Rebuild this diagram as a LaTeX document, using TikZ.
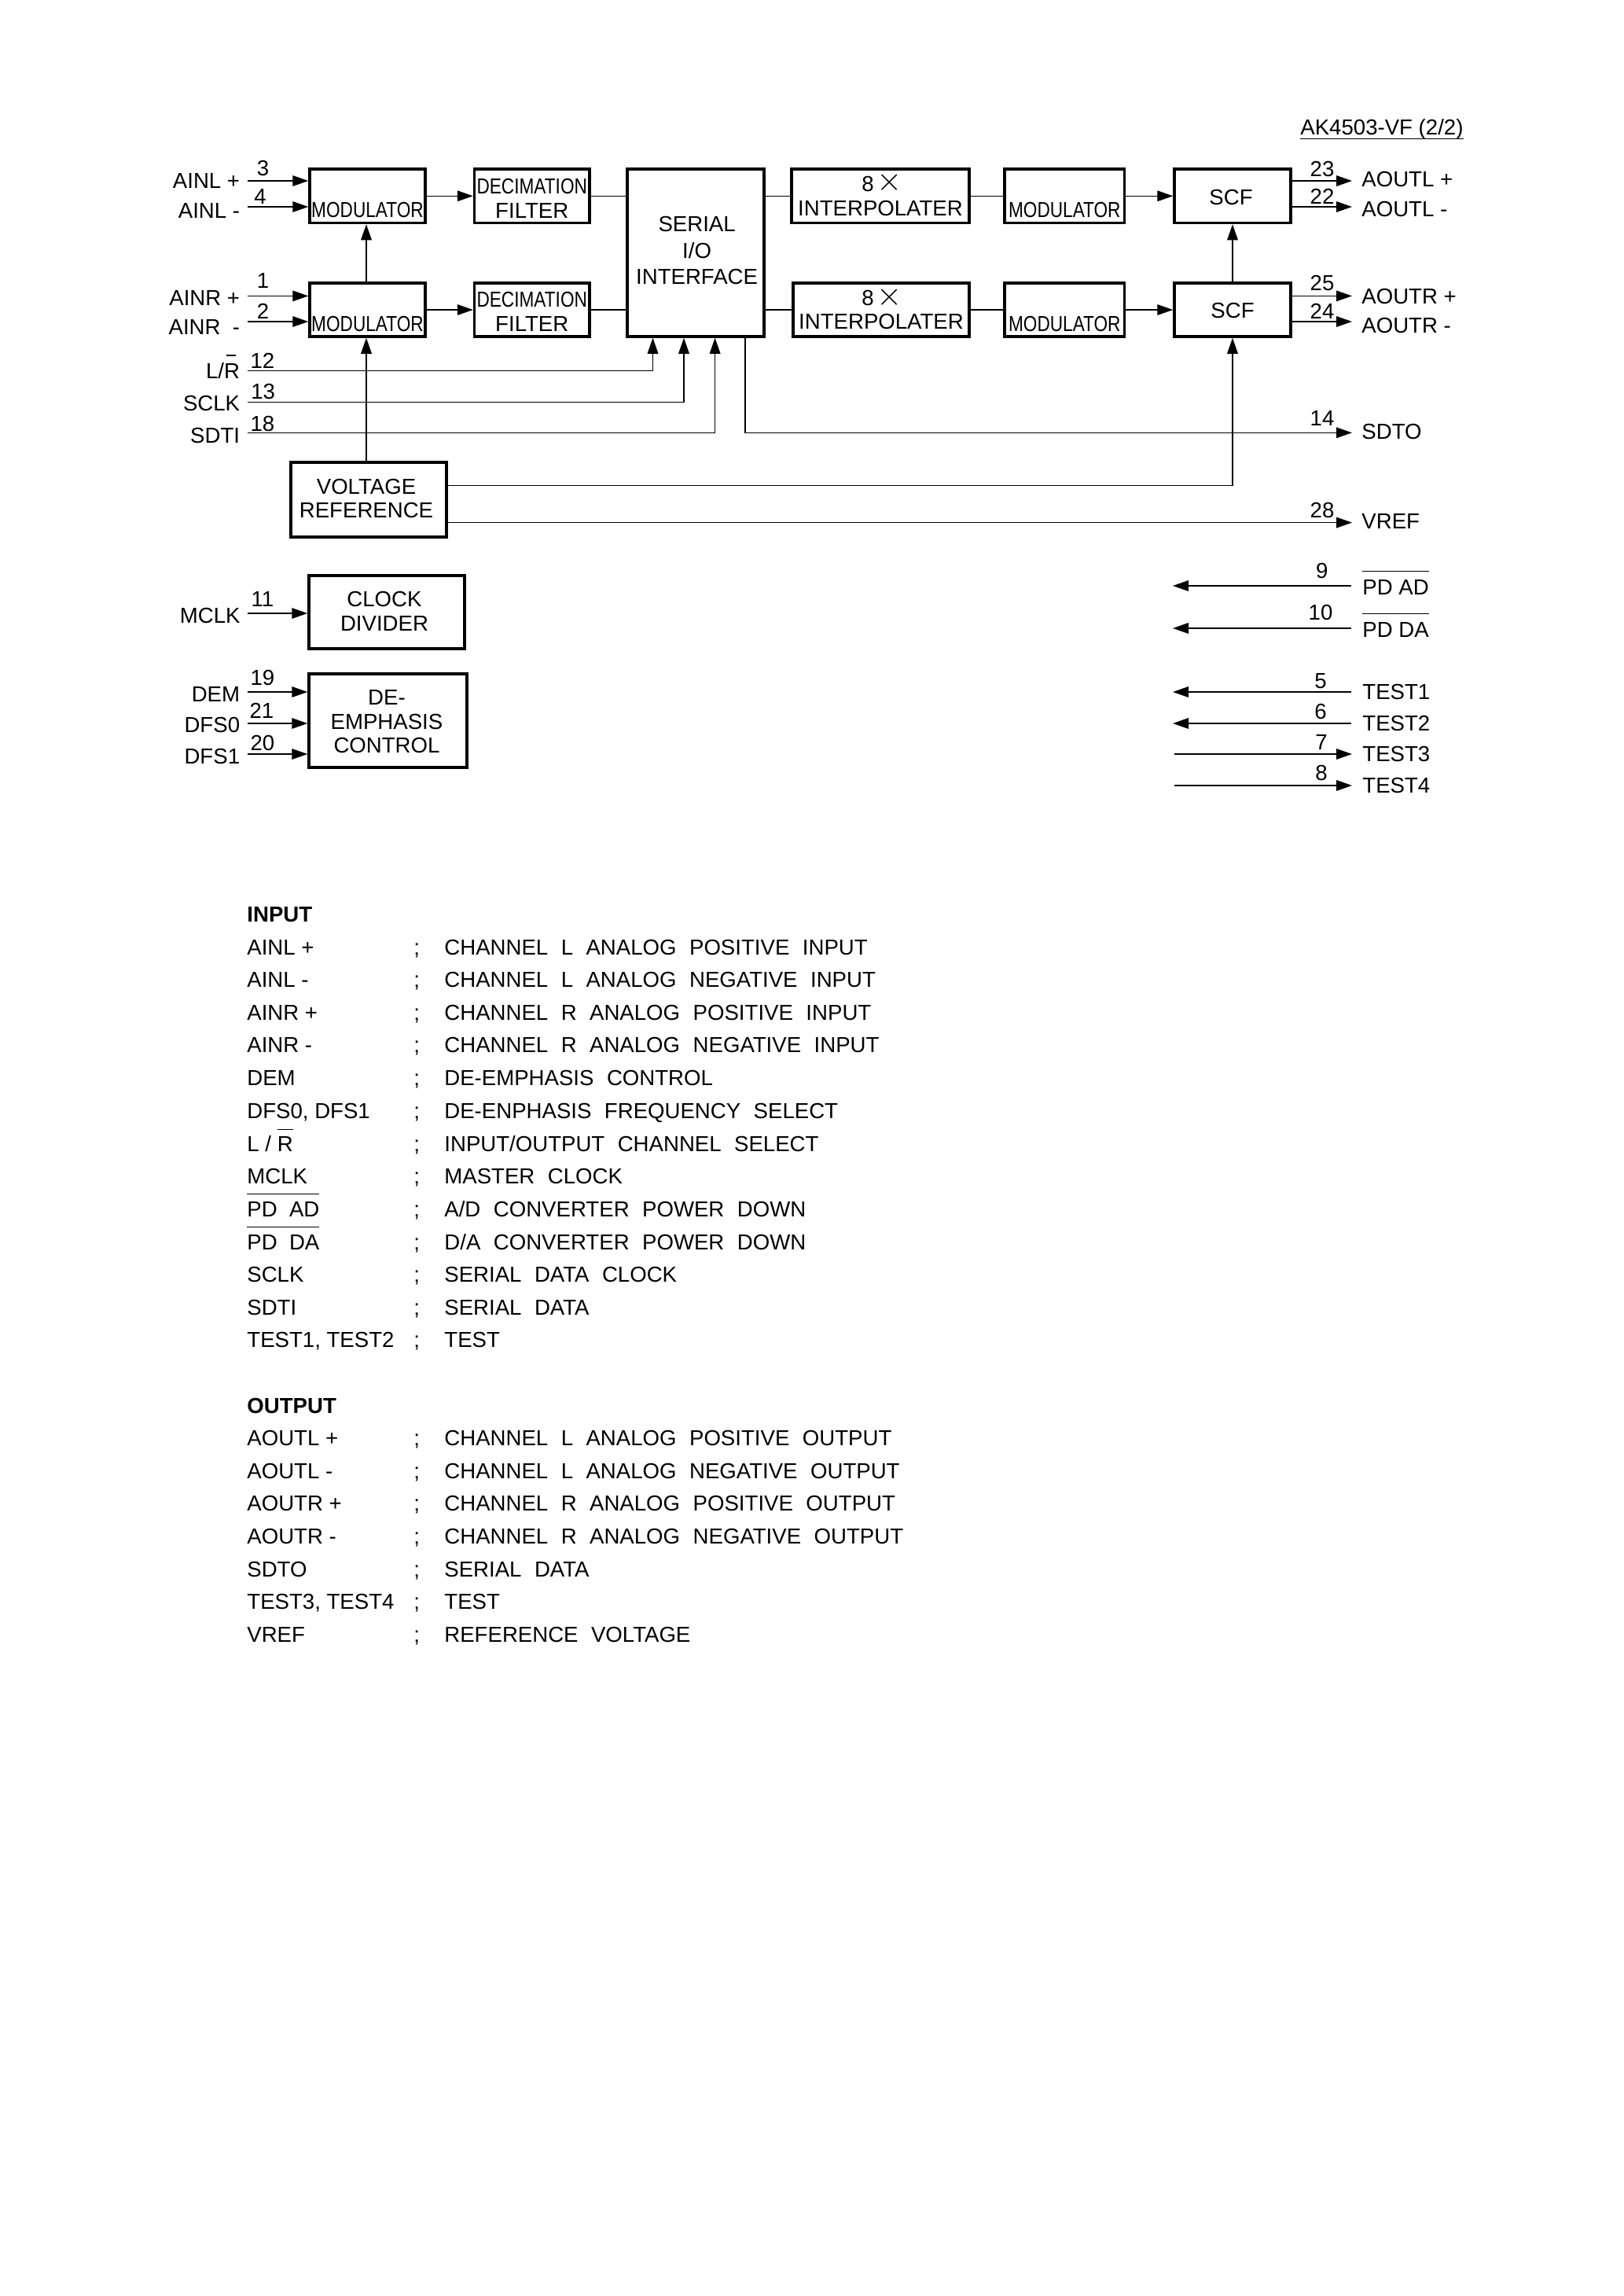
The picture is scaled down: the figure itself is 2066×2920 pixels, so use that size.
\documentclass[tikz,border=0pt]{standalone}
\usepackage{fontspec}
\setmainfont{Liberation Sans}
\newfontfamily\narrowf[FakeStretch=0.82]{Liberation Sans}
\newfontfamily\tablef[WordSpace=2.15]{Liberation Sans}
\usetikzlibrary{arrows.meta,calc}
\setlength{\unitlength}{0.5pt}
\newcommand\fs{\fontsize{13.8}{16}\selectfont}
% text line placed relative to the centre of its box: [dx]{dy}{text}, in pixels
\newcommand\bl[3][0]{\smash{\makebox[0pt]{\kern2\dimexpr#1\unitlength\relax\raisebox{-#2\unitlength}{#3}}}}
% text with a bar above (or below) it at a given height
\newcommand\ovb[2][14.5pt]{\setbox0\hbox{#2}\rlap{\raisebox{#1}{\rule{\wd0}{0.7pt}}}#2}
\newcommand\blk[6]{%
  \pgfmathsetmacro\bcx{(#2+#4)/2}\pgfmathsetmacro\bcy{(#3+#5)/2}%
  \pgfmathsetmacro\bw{#4-#2}\pgfmathsetmacro\bh{#5-#3}%
  \node[blockbox,minimum width=\bw\unitlength,minimum height=\bh\unitlength] (#1) at (\bcx,\bcy) {#6};}
\newcommand\trow[3]{%
  \node[lblL] (ta#1) at (314,#1) {#2};
  \node[lblL] (tb#1) at (526,#1) {;};
  \node[lblL] (tc#1) at (565,#1) {\tablef #3};}
\tikzset{
  every node/.style={inner sep=0pt,font=\fs},
  blockbox/.style={draw,line width=1.75pt,rectangle},
  lblL/.style={anchor=base west},
  lblR/.style={anchor=base east},
  num/.style={anchor=base},
  wire/.style={line width=0.7pt},
  arr/.style={line width=0.7pt,-{Triangle[length=10pt,width=6.8pt]}},
}
\begin{document}
\begin{tikzpicture}[x=0.5pt,y=-0.5pt]
\useasboundingbox (0,0) rectangle (2066,2920);
% title
\node[lblL] (title) at (1654,171) {\ovb[-3.2pt]{AK4503-VF (2/2)}};
% blocks
\blk{modL}{394}{215}{541}{283.5}{\bl{26.75}{\narrowf MODULATOR}}
\blk{modR}{394}{360}{541}{428}{\bl{27}{\narrowf MODULATOR}}
\blk{decL}{603.5}{215}{750}{283.5}{\bl{-2.75}{\narrowf DECIMATION}\bl{27.75}{FILTER}}
\blk{decR}{603.5}{360}{750}{428}{\bl{-4}{\narrowf DECIMATION}\bl{27}{FILTER}}
\blk{serial}{798}{215}{972}{428}{\bl[1.6]{-27}{SERIAL}\bl[1.6]{6.5}{I/O}\bl[1.6]{40}{INTERFACE}}
\blk{intL}{1007}{215}{1233}{283.5}{\bl[-16]{-6}{8}\bl[12]{-6.75}{\fontsize{20}{22}\selectfont$\times$}\bl{25}{INTERPOLATER}}
\blk{intR}{1009}{360}{1233}{428}{\bl[-17]{-6}{8}\bl[11]{-6}{\fontsize{20}{22}\selectfont$\times$}\bl{24.6}{INTERPOLATER}}
\blk{modDL}{1278}{215}{1430.6}{283.5}{\bl{26.75}{\narrowf MODULATOR}}
\blk{modDR}{1278}{360}{1430.6}{428}{\bl{27}{\narrowf MODULATOR}}
\blk{scfL}{1494}{215}{1642}{283.5}{\bl[-2]{11.4}{SCF}}
\blk{scfR}{1494}{360}{1642}{428}{\bl{10.5}{SCF}}
\blk{vr}{370}{588}{568}{683}{\bl[-3]{-6.8}{VOLTAGE}\bl[-3]{22.5}{REFERENCE}}
\blk{clock}{393}{732}{591}{825}{\bl[-3]{-6.8}{CLOCK}\bl[-3]{24}{DIVIDER}}
\blk{deemph}{393}{857}{594}{976}{\bl[-1.5]{-20}{DE-}\bl[-1.5]{10.5}{EMPHASIS}\bl[-1.5]{40.5}{CONTROL}}
% free ends
\foreach \n/\y in {c3/230,c4/263,c1/376.4,c2/409,c12/471.5,c13/511.4,c18/550.3,c11/780,c19/880,c21/920,c20/959}
  \coordinate (\n) at (315,\y);
\foreach \n/\y in {e14/550.3,e28/664.6,e7/959,e8/999}
  \coordinate (\n) at (1720,\y);
\coordinate (vrA) at (568,617.6);
\coordinate (vrB) at (568,664.6);
\coordinate (vx) at (466,0);
\coordinate (xa) at (830.5,0);
\coordinate (xb) at (870,0);
\coordinate (xc) at (909.6,0);
\coordinate (xd) at (948,0);
\coordinate (ox23) at (1720,230);
\coordinate (ox22) at (1720,263);
\coordinate (ox25) at (1720,376.4);
\coordinate (ox24) at (1720,409);
\coordinate (s9) at (1719,745);
\coordinate (s10) at (1719,799);
\coordinate (s5) at (1719,880);
\coordinate (s6) at (1719,920);
\coordinate (s7) at (1494,959);
\coordinate (s8) at (1494,999);
\coordinate (t9) at (1492,745);
\coordinate (t10) at (1492,799);
\coordinate (t5) at (1492,880);
\coordinate (t6) at (1492,920);
% input arrows
\draw[arr] (c3) -- (c3 -| modL.west);
\draw[arr] (c4) -- (c4 -| modL.west);
\draw[arr] (c1) -- (c1 -| modR.west);
\draw[arr] (c2) -- (c2 -| modR.west);
% signal chain
\draw[arr] (modL.east) -- (decL.west);
\draw[arr] (modR.east) -- (decR.west);
\draw[wire] (decL.east) -- (serial.west |- decL.east);
\draw[wire] (decR.east) -- (serial.west |- decR.east);
\draw[wire] (serial.east |- intL.west) -- (intL.west);
\draw[wire] (serial.east |- intR.west) -- (intR.west);
\draw[wire] (intL.east) -- (modDL.west);
\draw[wire] (intR.east) -- (modDR.west);
\draw[arr] (modDL.east) -- (scfL.west);
\draw[arr] (modDR.east) -- (scfR.west);
\draw[arr] (vx |- modR.north) -- (vx |- modL.south);
\draw[arr] (vx |- vr.north) -- (vx |- modR.south);
\draw[arr] (scfR.north) -- (scfL.south);
% serial control lines
\draw[arr] (c12) -| (xa |- serial.south);
\draw[arr] (c13) -| (xb |- serial.south);
\draw[arr] (c18) -| (xc |- serial.south);
\draw[arr] (xd |- serial.south) |- (e14);
% voltage reference outputs
\draw[arr] (vrA) -| (scfR.south);
\draw[arr] (vrB) -- (e28);
% outputs
\draw[arr] (scfL.east |- ox23) -- (ox23);
\draw[arr] (scfL.east |- ox22) -- (ox22);
\draw[arr] (scfR.east |- ox25) -- (ox25);
\draw[arr] (scfR.east |- ox24) -- (ox24);
% clock and de-emphasis inputs
\draw[arr] (c11) -- (c11 -| clock.west);
\draw[arr] (c19) -- (c19 -| deemph.west);
\draw[arr] (c21) -- (c21 -| deemph.west);
\draw[arr] (c20) -- (c20 -| deemph.west);
% right hand pins
\draw[arr] (s9) -- (t9);
\draw[arr] (s10) -- (t10);
\draw[arr] (s5) -- (t5);
\draw[arr] (s6) -- (t6);
\draw[arr] (s7) -- (e7);
\draw[arr] (s8) -- (e8);
% left labels
\node[lblR] (lAINLp) at (305.5,239) {AINL +};
\node[lblR] (lAINLm) at (305.5,277) {AINL -};
\node[lblR] (lAINRp) at (305.5,388) {AINR +};
\node[lblR] (lAINRm) at (305.5,425) {AINR\ \ -};
\node[lblR] (lLR) at (305.5,481.5) {L/\rlap{\kern1.5pt\raisebox{14.5pt}{\rule{6pt}{0.7pt}}}R};
\node[lblR] (lSCLK) at (305.5,522) {SCLK};
\node[lblR] (lSDTI) at (305.5,563) {SDTI};
\node[lblR] (lMCLK) at (306,792.7) {MCLK};
\node[lblR] (lDEM) at (305.5,892) {DEM};
\node[lblR] (lDFS0) at (305.5,931.7) {DFS0};
\node[lblR] (lDFS1) at (305.5,971.7) {DFS1};
% left pin numbers
\node[num] (n3) at (334.6,223.5) {3};
\node[num] (n4) at (331,259) {4};
\node[num] (n1) at (334.6,366.5) {1};
\node[num] (n2) at (334.6,405) {2};
\node[num] (n12) at (334,468) {12};
\node[num] (n13) at (334.6,507.5) {13};
\node[num] (n18) at (334,548) {18};
\node[num] (n11) at (334,771) {11};
\node[num] (n19) at (334,871.5) {19};
\node[num] (n21) at (333,913.5) {21};
\node[num] (n20) at (334,954) {20};
% right pin numbers
\node[num] (n23) at (1682,224) {23};
\node[num] (n22) at (1682,259) {22};
\node[num] (n25) at (1682,369) {25};
\node[num] (n24) at (1682,405) {24};
\node[num] (n14) at (1682,541.5) {14};
\node[num] (n28) at (1682,658) {28};
\node[num] (n9) at (1681.7,735) {9};
\node[num] (n10) at (1680,788) {10};
\node[num] (n5) at (1680,875) {5};
\node[num] (n6) at (1680,914) {6};
\node[num] (n7) at (1681,953) {7};
\node[num] (n8) at (1681,992.7) {8};
% right labels
\node[lblL] (lAOUTLp) at (1732,237) {AOUTL +};
\node[lblL] (lAOUTLm) at (1732,275) {AOUTL -};
\node[lblL] (lAOUTRp) at (1732,386) {AOUTR +};
\node[lblL] (lAOUTRm) at (1732,423) {AOUTR -};
\node[lblL] (lSDTO) at (1732,558.4) {SDTO};
\node[lblL] (lVREF) at (1732,672.7) {VREF};
\node[lblL] (lPDAD) at (1733,756.7) {\ovb[14.85pt]{PD AD}};
\node[lblL] (lPDDA) at (1733,810.7) {\ovb[14.85pt]{PD DA}};
\node[lblL] (lT1) at (1733,889) {TEST1};
\node[lblL] (lT2) at (1733,929) {TEST2};
\node[lblL] (lT3) at (1733,968.7) {TEST3};
\node[lblL] (lT4) at (1733,1008.7) {TEST4};
% pin table
\node[lblL,font=\fs\bfseries] (hInput) at (314,1172) {INPUT};
\trow{1214}{AINL +}{CHANNEL L ANALOG POSITIVE INPUT}
\trow{1255}{AINL -}{CHANNEL L ANALOG NEGATIVE INPUT}
\trow{1297}{AINR +}{CHANNEL R ANALOG POSITIVE INPUT}
\trow{1338}{AINR -}{CHANNEL R ANALOG NEGATIVE INPUT}
\trow{1380}{DEM}{DE-EMPHASIS CONTROL}
\trow{1422}{DFS0, DFS1}{DE-ENPHASIS FREQUENCY SELECT}
\trow{1464}{L / \ovb[13.5pt]{R}}{INPUT/OUTPUT CHANNEL SELECT}
\trow{1505}{MCLK}{MASTER CLOCK}
\trow{1547}{\ovb[14pt]{PD\ \ AD}}{A/D CONVERTER POWER DOWN}
\trow{1589}{\ovb[14pt]{PD\ \ DA}}{D/A CONVERTER POWER DOWN}
\trow{1630}{SCLK}{SERIAL DATA CLOCK}
\trow{1672}{SDTI}{SERIAL DATA}
\trow{1713}{TEST1, TEST2}{TEST}
\node[lblL,font=\fs\bfseries] (hOutput) at (314,1797) {OUTPUT};
\trow{1838}{AOUTL +}{CHANNEL L ANALOG POSITIVE OUTPUT}
\trow{1880}{AOUTL -}{CHANNEL L ANALOG NEGATIVE OUTPUT}
\trow{1921}{AOUTR +}{CHANNEL R ANALOG POSITIVE OUTPUT}
\trow{1963}{AOUTR -}{CHANNEL R ANALOG NEGATIVE OUTPUT}
\trow{2005}{SDTO}{SERIAL DATA}
\trow{2046}{TEST3, TEST4}{TEST}
\trow{2088}{VREF}{REFERENCE VOLTAGE}
\end{tikzpicture}
\end{document}
